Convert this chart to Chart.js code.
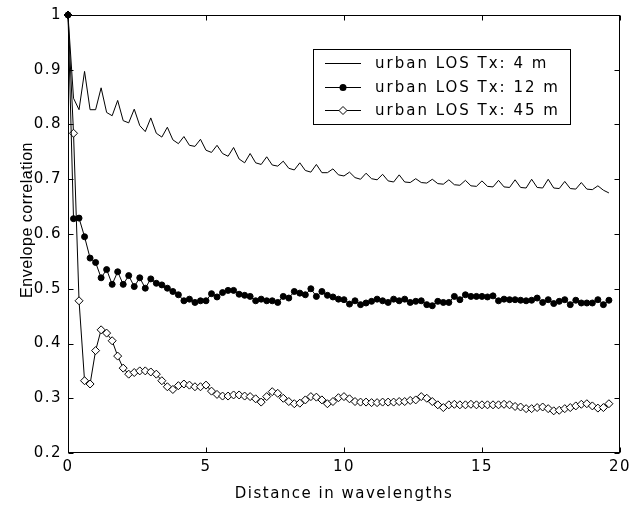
<!DOCTYPE html>
<html>
<head>
<meta charset="utf-8">
<title>Envelope correlation vs distance</title>
<script src="https://cdn.jsdelivr.net/npm/chart.js@4.4.1/dist/chart.umd.min.js"></script>
<style>
    html, body { margin: 0; padding: 0; background: #fff; }
    canvas { display: block; }
</style>
</head>
<body>
<canvas id="chart" width="636" height="506"></canvas>
<script>
// distance in wavelengths (sample positions)
const distance = [
    0, 0.2, 0.4, 0.6, 0.8, 1, 1.2, 1.4, 1.6, 1.8,
    2, 2.2, 2.4, 2.6, 2.8, 3, 3.2, 3.4, 3.6, 3.8,
    4, 4.2, 4.4, 4.6, 4.8, 5, 5.2, 5.4, 5.6, 5.8,
    6, 6.2, 6.4, 6.6, 6.8, 7, 7.2, 7.4, 7.6, 7.8,
    8, 8.2, 8.4, 8.6, 8.8, 9, 9.2, 9.4, 9.6, 9.8,
    10, 10.2, 10.4, 10.6, 10.8, 11, 11.2, 11.4, 11.6, 11.8,
    12, 12.2, 12.4, 12.6, 12.8, 13, 13.2, 13.4, 13.6, 13.8,
    14, 14.2, 14.4, 14.6, 14.8, 15, 15.2, 15.4, 15.6, 15.8,
    16, 16.2, 16.4, 16.6, 16.8, 17, 17.2, 17.4, 17.6, 17.8,
    18, 18.2, 18.4, 18.6, 18.8, 19, 19.2, 19.4, 19.6
];

const los4m = [
    1.0, 0.848, 0.827, 0.897, 0.827, 0.827, 0.867, 0.822, 0.816, 0.844,
    0.807, 0.803, 0.828, 0.798, 0.787, 0.812, 0.784, 0.777, 0.795, 0.772,
    0.765, 0.778, 0.762, 0.760, 0.773, 0.753, 0.749, 0.762, 0.747, 0.742,
    0.758, 0.737, 0.730, 0.747, 0.730, 0.727, 0.741, 0.726, 0.724, 0.733,
    0.720, 0.717, 0.730, 0.716, 0.713, 0.727, 0.712, 0.712, 0.719, 0.708,
    0.706, 0.713, 0.703, 0.700, 0.711, 0.701, 0.699, 0.709, 0.697, 0.695,
    0.708, 0.695, 0.694, 0.701, 0.694, 0.693, 0.700, 0.692, 0.691, 0.699,
    0.690, 0.689, 0.698, 0.688, 0.687, 0.697, 0.687, 0.686, 0.698, 0.686,
    0.685, 0.699, 0.685, 0.684, 0.700, 0.685, 0.684, 0.700, 0.684, 0.683,
    0.696, 0.683, 0.682, 0.694, 0.682, 0.681, 0.688, 0.680, 0.675
];

const los12m = [
    1.0, 0.628, 0.629, 0.595, 0.556, 0.548, 0.520, 0.535, 0.508, 0.531,
    0.508, 0.524, 0.504, 0.520, 0.501, 0.518, 0.510, 0.507, 0.501, 0.495,
    0.489, 0.478, 0.481, 0.475, 0.478, 0.478, 0.491, 0.485, 0.493, 0.497,
    0.497, 0.490, 0.488, 0.486, 0.478, 0.481, 0.478, 0.478, 0.475, 0.486,
    0.483, 0.495, 0.492, 0.489, 0.500, 0.486, 0.495, 0.488, 0.485, 0.481,
    0.480, 0.472, 0.478, 0.471, 0.474, 0.477, 0.481, 0.478, 0.475, 0.481,
    0.478, 0.481, 0.475, 0.477, 0.478, 0.471, 0.469, 0.477, 0.475, 0.475,
    0.486, 0.480, 0.489, 0.486, 0.486, 0.486, 0.485, 0.487, 0.478, 0.481,
    0.480, 0.480, 0.479, 0.478, 0.479, 0.483, 0.475, 0.480, 0.473, 0.477,
    0.480, 0.471, 0.479, 0.474, 0.474, 0.474, 0.480, 0.471, 0.479
];

const los45m = [
    1.0, 0.784, 0.478, 0.332, 0.326, 0.387, 0.425, 0.419, 0.405, 0.377,
    0.355, 0.344, 0.347, 0.350, 0.350, 0.348, 0.344, 0.332, 0.321, 0.316,
    0.323, 0.326, 0.324, 0.321, 0.321, 0.324, 0.313, 0.307, 0.304, 0.304,
    0.306, 0.306, 0.304, 0.303, 0.299, 0.293, 0.303, 0.312, 0.309, 0.300,
    0.294, 0.290, 0.291, 0.297, 0.303, 0.302, 0.297, 0.290, 0.294, 0.301,
    0.303, 0.299, 0.294, 0.293, 0.293, 0.292, 0.292, 0.293, 0.293, 0.293,
    0.294, 0.294, 0.296, 0.297, 0.303, 0.300, 0.294, 0.288, 0.283, 0.288,
    0.289, 0.288, 0.288, 0.289, 0.288, 0.288, 0.288, 0.288, 0.288, 0.289,
    0.288, 0.285, 0.284, 0.281, 0.281, 0.283, 0.284, 0.281, 0.277, 0.278,
    0.281, 0.283, 0.286, 0.289, 0.290, 0.286, 0.282, 0.283, 0.290
];

const seriesNames = ["urban LOS Tx: 4 m", "urban LOS Tx: 12 m", "urban LOS Tx: 45 m"];
const xTicks = [0, 5, 10, 15, 20];
const yTicks = [0.2, 0.3, 0.4, 0.5, 0.6, 0.7, 0.8, 0.9, 1];

const FONT = "'DejaVu Sans', sans-serif";

function toPoints(values) {
    return values.map((v, i) => ({ x: distance[i], y: v }));
}

// wide, spaced text like the scanned figure
const spacing = {
    id: "spacing",
    beforeUpdate(chart) { chart.ctx.letterSpacing = "1.5px"; },
    beforeDraw(chart) { chart.ctx.letterSpacing = "1.5px"; }
};

// box round the plot with inward ticks on all four sides
const frame = {
    id: "frame",
    beforeDatasetsDraw(chart) {
        const { ctx, chartArea: a, scales: { x, y } } = chart;
        const L = Math.round(a.left) + 0.5;
        const R = Math.round(a.right) - 0.5;
        const T = Math.round(a.top) + 0.5;
        const B = Math.round(a.bottom) - 0.5;
        const len = 5;
        ctx.save();
        ctx.strokeStyle = "#000";
        ctx.lineWidth = 1;
        ctx.strokeRect(L, T, R - L, B - T);
        ctx.beginPath();
        xTicks.forEach(v => {
            const px = Math.round(x.getPixelForValue(v)) + 0.5;
            ctx.moveTo(px, B); ctx.lineTo(px, B - len);
            ctx.moveTo(px, T); ctx.lineTo(px, T + len);
        });
        yTicks.forEach(v => {
            const py = Math.round(y.getPixelForValue(v)) + 0.5;
            ctx.moveTo(L, py); ctx.lineTo(L + len, py);
            ctx.moveTo(R, py); ctx.lineTo(R - len, py);
        });
        ctx.stroke();
        ctx.restore();
    }
};

function drawMarker(ctx, style, x, y) {
    if (style === "circle") {
        ctx.beginPath();
        ctx.arc(x, y, 3.5, 0, Math.PI * 2);
        ctx.fillStyle = "#000";
        ctx.fill();
    } else if (style === "rectRot") {
        ctx.beginPath();
        ctx.moveTo(x, y - 4); ctx.lineTo(x + 4, y);
        ctx.lineTo(x, y + 4); ctx.lineTo(x - 4, y);
        ctx.closePath();
        ctx.fillStyle = "#fff";
        ctx.fill();
        ctx.stroke();
    }
}

// legend box in the upper right, plus the vertical axis title
const legendBox = {
    id: "legendBox",
    afterDraw(chart) {
        const ctx = chart.ctx;
        const a = chart.chartArea;
        ctx.save();
        ctx.fillStyle = "#fff";
        ctx.strokeStyle = "#000";
        ctx.lineWidth = 1;
        ctx.fillRect(313.5, 49.5, 257, 75);
        ctx.strokeRect(313.5, 49.5, 257, 75);

        const rows = [63, 87, 110];
        const styles = [null, "circle", "rectRot"];
        ctx.letterSpacing = "2px";
        ctx.font = "15px " + FONT;
        ctx.textAlign = "left";
        ctx.textBaseline = "middle";
        seriesNames.forEach((name, i) => {
            const yy = rows[i] + 0.5;
            ctx.beginPath();
            ctx.moveTo(325, yy); ctx.lineTo(361, yy);
            ctx.strokeStyle = "#000";
            ctx.stroke();
            if (styles[i]) drawMarker(ctx, styles[i], 343, yy);
            ctx.fillStyle = "#000";
            ctx.fillText(name, 375, rows[i] + 1);
        });

        ctx.letterSpacing = "0.5px";
        ctx.translate(28, (a.top + a.bottom) / 2 - 14);
        ctx.rotate(-Math.PI / 2);
        ctx.font = "16px 'Liberation Sans', Arial, sans-serif";
        ctx.textAlign = "center";
        ctx.fillStyle = "#000";
        ctx.fillText("Envelope correlation", 0, 0);
        ctx.restore();
    }
};

Chart.defaults.color = "#000";
Chart.defaults.font.family = FONT;

new Chart(document.getElementById("chart"), {
    type: "line",
    data: {
        datasets: [
            {
                label: seriesNames[0],
                data: toPoints(los4m),
                borderColor: "#000",
                borderWidth: 1,
                pointRadius: 0,
                clip: false
            },
            {
                label: seriesNames[1],
                data: toPoints(los12m),
                borderColor: "#000",
                borderWidth: 1,
                pointStyle: "circle",
                pointRadius: 3,
                pointBackgroundColor: "#000",
                pointBorderColor: "#000",
                pointBorderWidth: 1,
                clip: false
            },
            {
                label: seriesNames[2],
                data: toPoints(los45m),
                borderColor: "#000",
                borderWidth: 1,
                pointStyle: "rectRot",
                pointRadius: 4,
                pointBackgroundColor: "#fff",
                pointBorderColor: "#000",
                pointBorderWidth: 1,
                clip: false
            }
        ]
    },
    options: {
        responsive: false,
        animation: false,
        layout: { padding: { top: 15, right: 12, left: 0, bottom: 0 } },
        plugins: {
            legend: { display: false },
            tooltip: { enabled: false }
        },
        scales: {
            x: {
                type: "linear",
                min: 0,
                max: 20,
                grid: { display: false, drawTicks: false },
                border: { display: false },
                afterBuildTicks(scale) { scale.ticks = xTicks.map(v => ({ value: v })); },
                afterFit(scale) { scale.height = 53; },
                ticks: { padding: 5, maxRotation: 0, font: { size: 15 } },
                title: {
                    display: true,
                    text: "Distance in wavelengths",
                    font: { size: 15 },
                    padding: { top: 0, bottom: 3 }
                }
            },
            y: {
                type: "linear",
                min: 0.2,
                max: 1,
                grid: { display: false, drawTicks: false },
                border: { display: false },
                afterBuildTicks(scale) { scale.ticks = yTicks.map(v => ({ value: v })); },
                afterFit(scale) { scale.width = 68; },
                ticks: {
                    padding: 6,
                    font: { size: 15 },
                    callback: v => String(+v.toFixed(1))
                }
            }
        }
    },
    plugins: [spacing, frame, legendBox]
});
</script>
</body>
</html>
